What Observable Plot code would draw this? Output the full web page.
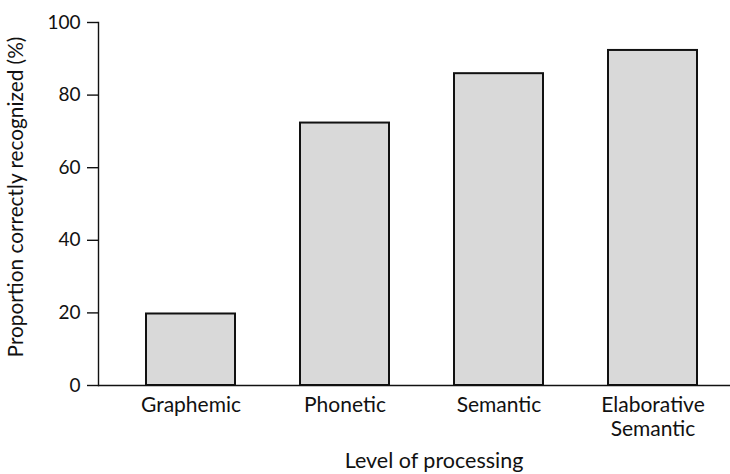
<!DOCTYPE html>
<html>
<head>
<meta charset="utf-8">
<script src="https://cdn.jsdelivr.net/npm/d3@7"></script>
<script src="https://cdn.jsdelivr.net/npm/@observablehq/plot@0.6"></script>
<style>
  html, body { margin: 0; padding: 0; background: #fff; }
  #chart svg { display: block; }
</style>
</head>
<body>
<div id="chart"></div>
<script>
const categories = ["Graphemic", "Phonetic", "Semantic", "Elaborative\nSemantic"];
const values = [19.7, 72.3, 85.9, 92.3];
const yTicks = [0, 20, 40, 60, 80, 100];
const xTitle = "Level of processing";
const yTitle = "Proportion correctly recognized (%)";

const data = categories.map((c, i) => ({category: c, value: values[i]}));
const FONT = "Lato, 'Open Sans', sans-serif";

const chart = Plot.plot({
  width: 730,
  height: 474,
  marginLeft: 98,
  marginRight: 0,
  marginTop: 22,
  marginBottom: 89,
  style: {fontFamily: FONT, fontSize: "18px", color: "#111", background: "#fff"},
  x: {domain: categories, range: [98, 745], paddingInner: 0.4194, paddingOuter: 0.2968, align: 0.5},
  y: {domain: [0, 100]},
  marks: [
    Plot.barY(data, {x: "category", y: "value", fill: "#d9d9d9", stroke: "#111", strokeWidth: 2}),
    Plot.frame({anchor: "left", stroke: "#111", strokeWidth: 1.4}),
    Plot.ruleY([0], {stroke: "#111", strokeWidth: 1.4}),
    Plot.axisY({ticks: yTicks, tickSize: 11, tickPadding: 7, label: null, strokeWidth: 1.4, fontSize: 19}),
    Plot.axisX({tickSize: 0, tickPadding: 9, label: null, fontSize: 21, lineHeight: 1.15})
  ]
});
document.getElementById("chart").appendChild(chart);

const svg = d3.select(chart);
svg.append("text")
  .attr("x", 434).attr("y", 468)
  .attr("text-anchor", "middle")
  .attr("font-family", FONT).attr("font-size", 21.5).attr("fill", "#111")
  .text(xTitle);
svg.append("text")
  .attr("transform", "translate(23,197) rotate(-90)")
  .attr("text-anchor", "middle")
  .attr("font-family", FONT).attr("font-size", 20.8).attr("fill", "#111")
  .text(yTitle);
</script>
</body>
</html>
